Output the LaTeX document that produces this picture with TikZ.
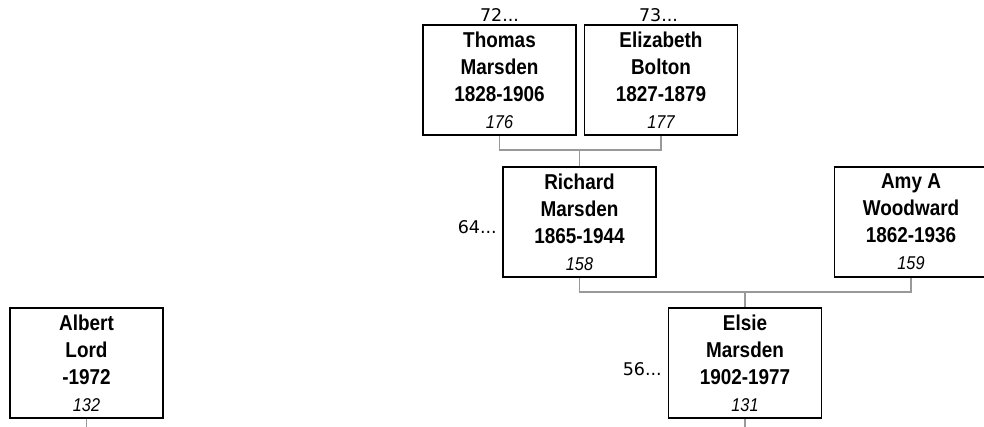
\documentclass[tikz,border=0pt]{standalone}
\usepackage{fontspec}
\setmainfont{Liberation Sans}
\newfontfamily\namefont[FakeStretch=0.88]{Liberation Sans}
\newfontfamily\numfont{DejaVu Sans}
\usetikzlibrary{positioning}

\begin{document}
\begin{tikzpicture}[x=1pt,y=-1pt,
  person/.style={draw,line width=1.5pt,minimum width=153pt,minimum height=110pt,
    align=center,inner sep=0pt,font=\namefont\bfseries\fontsize{21.5}{27}\selectfont},
  gen/.style={font=\numfont\fontsize{17.5}{18}\selectfont,inner sep=0pt},
  link/.style={draw=black!40,line width=1.5pt},
  node distance=7pt and 177pt
]
  \useasboundingbox (0,0) rectangle (984,427);

  \node[person] (thomas) at (499.5,80) {Thomas\\Marsden\\1828-1906\\{\mdseries\itshape\fontsize{18.5}{18}\selectfont 176}};
  \node[person,right=7pt of thomas] (elizabeth) {Elizabeth\\Bolton\\1827-1879\\{\mdseries\itshape\fontsize{18.5}{18}\selectfont 177}};
  \node[gen,anchor=base] (g72) at (499.5,22) {72...};
  \node[gen,anchor=base] (g73) at (658.5,22) {73...};

  \node[person] (richard) at (579.5,222) {Richard\\Marsden\\1865-1944\\{\mdseries\itshape\fontsize{18.5}{18}\selectfont 158}};
  \node[person,right=of richard] (amy) {Amy A\\Woodward\\1862-1936\\{\mdseries\itshape\fontsize{18.5}{18}\selectfont 159}};
  \node[gen,anchor=base east] (g64) at (497,234) {64...};

  \node[person] (elsie) at (745,363) {Elsie\\Marsden\\1902-1977\\{\mdseries\itshape\fontsize{18.5}{18}\selectfont 131}};
  \node[gen,anchor=base east] (g56) at (662,375) {56...};
  \node[person] (albert) at (86.5,363) {Albert\\Lord\\-1972\\{\mdseries\itshape\fontsize{18.5}{18}\selectfont 132}};

  \coordinate (tm) at (richard.north |- 0,150);
  \coordinate (ra) at (elsie.north |- 0,292);
  \coordinate (elsiedown) at (elsie.south |- 0,427);
  \coordinate (albertdown) at (albert.south |- 0,427);

  \draw[link] (thomas.south) |- (tm) -| (elizabeth.south);
  \draw[link] (tm) -- (richard.north);
  \draw[link] (richard.south) |- (ra) -| (amy.south);
  \draw[link] (ra) -- (elsie.north);
  \draw[link] (elsie.south) -- (elsiedown);
  \draw[link] (albert.south) -- (albertdown);
\end{tikzpicture}
\end{document}
